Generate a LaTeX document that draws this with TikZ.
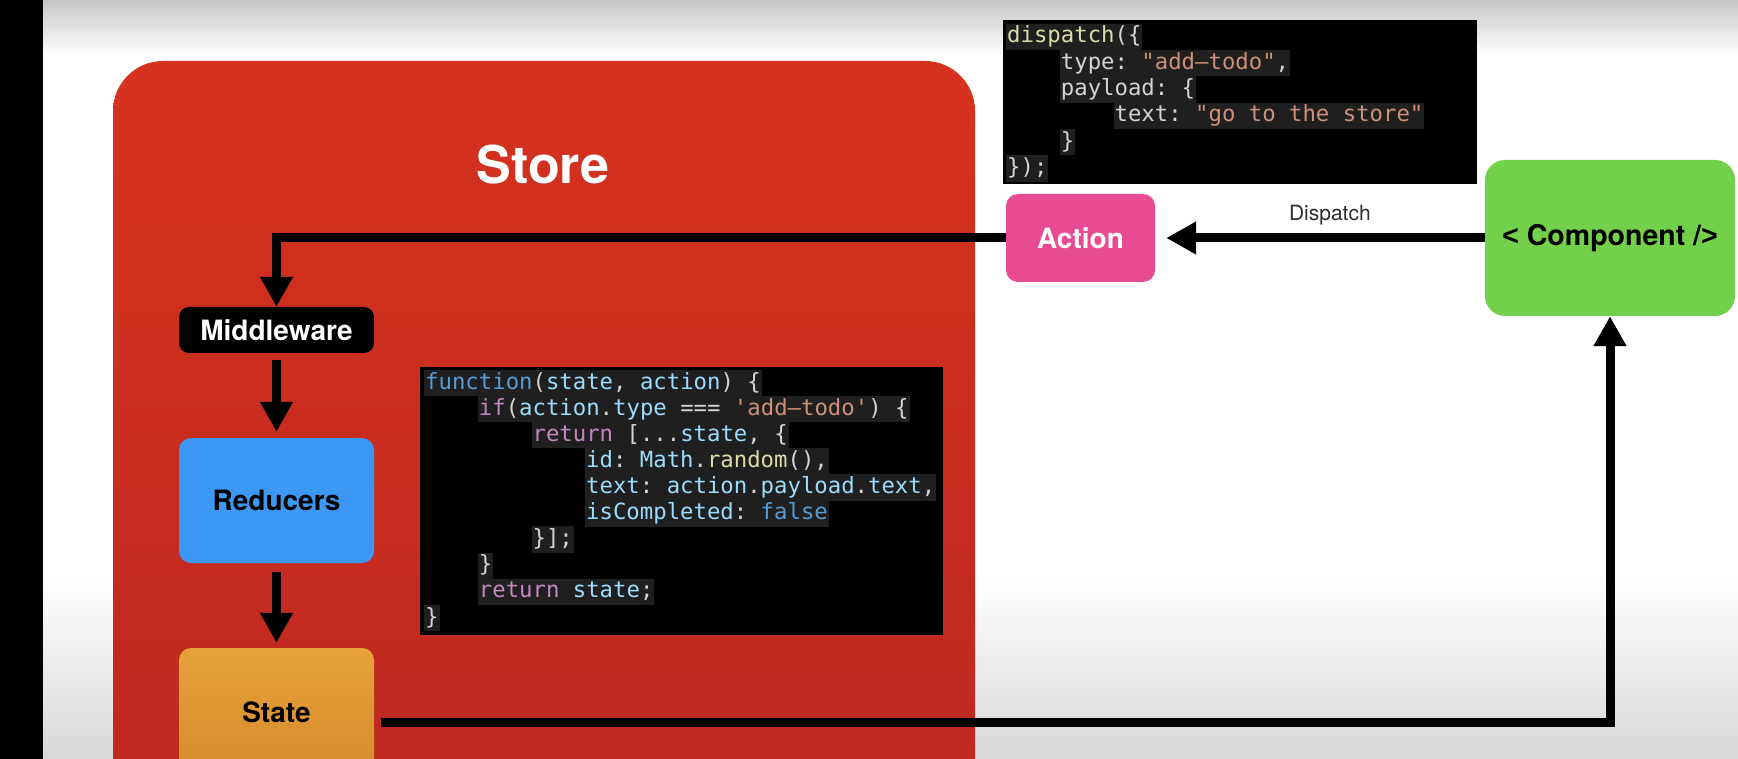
\documentclass[tikz,border=0pt]{standalone}
\usepackage{fontspec}
\setmonofont{DejaVu Sans Mono}
\newfontfamily\hv{TeX Gyre Heros}
\newfontfamily\lib{Liberation Sans}
\usetikzlibrary{arrows.meta}
\definecolor{cdef}{HTML}{D4D4D4}
\definecolor{cvar}{HTML}{9CDCFE}
\definecolor{ckey}{HTML}{C586C0}
\definecolor{cblue}{HTML}{569CD6}
\definecolor{cstr}{HTML}{CE9178}
\definecolor{cfun}{HTML}{DCDCAA}
\definecolor{chl}{HTML}{1F1F1F}
\definecolor{storetop}{HTML}{D6321F}
\definecolor{storebot}{HTML}{BC2820}
\definecolor{redblue}{HTML}{3D98F5}
\definecolor{statetop}{HTML}{E8A23A}
\definecolor{statebot}{HTML}{D48B2C}
\definecolor{actpink}{HTML}{E84A93}
\definecolor{compgreen}{HTML}{72D04A}
\definecolor{bggray}{HTML}{D8D8D8}
\definecolor{lblgray}{HTML}{2E2E2E}
\tikzset{
  boxlbl/.style={font=\hv\bfseries\fontsize{28}{32}\selectfont, inner sep=0pt},
  codeline/.style={anchor=west, fill=chl, inner xsep=1pt, inner ysep=0pt,
    minimum height=26.3pt, text height=17pt, text depth=5pt,
    font=\ttfamily\fontsize{22.3}{26}\selectfont},
  codebox/.style={fill=black, draw=none},
  flow/.style={line width=9pt, -{Triangle[width=31pt,length=30pt]}},
}
\begin{document}
\begin{tikzpicture}[x=1pt,y=-1pt]
\useasboundingbox (0,0) rectangle (1738,759);
\clip (0,0) rectangle (1738,759);
% background
\fill[white] (0,0) rectangle (1738,759);
\shade[top color=black!22, bottom color=white] (0,0) rectangle (1738,55);
\shade[top color=white, bottom color=bggray] (0,575) rectangle (1738,759);
\fill[black] (0,0) rectangle (43,759);
% store
\shade[top color=storetop, middle color=storetop, bottom color=storebot, rounded corners=50pt]
  (113,61) rectangle (975,830);
\node[font=\hv\bfseries\fontsize{52}{60}\selectfont, text=white] (storelbl) at (543,165) {Store};
% nodes
\node[boxlbl, fill=black, text=white, rounded corners=10pt, minimum width=195pt, minimum height=46pt]
  (mw) at (276.5,330) {Middleware};
\node[boxlbl, fill=redblue, text=black, rounded corners=12pt, minimum width=195pt, minimum height=125pt]
  (red) at (276.5,500.5) {Reducers};
\node[boxlbl, top color=statetop, bottom color=statebot, text=black, rounded corners=12pt, minimum width=195pt, minimum height=128pt]
  (st) at (276.5,712) {State};
\node[boxlbl, fill=actpink, text=white, rounded corners=12pt, minimum width=149pt, minimum height=88pt]
  (act) at (1080.5,238) {Action};
\node[boxlbl, fill=compgreen, text=black, rounded corners=20pt, minimum width=250pt, minimum height=156pt,
  font=\hv\bfseries\fontsize{28.5}{32}\selectfont]
  (comp) at (1610,238) {{\lib\bfseries <} Component /{\lib\bfseries >}};
% connectors
\draw[flow] (act.west) -| (mw.north);
\draw[flow, shorten <=7pt, shorten >=6pt] (mw.south) -- (red.north);
\draw[flow, shorten <=9pt, shorten >=5pt] (red.south) -- (st.north);
\draw[flow, shorten >=11pt] (comp.west) -- (act.east)
  node[pos=0.47, yshift=23pt, font=\hv\fontsize{21}{24}\selectfont, text=lblgray] (dlbl) {Dispatch};
\draw[flow] ([xshift=7pt,yshift=-10pt]st.east) -| (comp.south);
% code box 1
\fill[codebox] (1003,20) rectangle (1477,184);
\node[codeline] (a1) at (1006,37) {\textcolor{cfun}{dispatch}\textcolor{cdef}{(\{}};
\node[codeline] (a2) at (1059.7,63.3) {\textcolor{cdef}{type: }\textcolor{cstr}{"add–todo"}\textcolor{cdef}{,}};
\node[codeline] (a3) at (1059.7,89.6) {\textcolor{cdef}{payload: \{}};
\node[codeline] (a4) at (1113.4,115.9) {\textcolor{cdef}{text: }\textcolor{cstr}{"go to the store"}};
\node[codeline] (a5) at (1059.7,142.2) {\textcolor{cdef}{\}}};
\node[codeline] (a6) at (1006,168.5) {\textcolor{cdef}{\});}};
% code box 2
\fill[codebox] (420,367) rectangle (943,635);
\node[codeline] (b1) at (424,383) {\textcolor{cblue}{function}\textcolor{cdef}{(}\textcolor{cvar}{state}\textcolor{cdef}{, }\textcolor{cvar}{action}\textcolor{cdef}{) \{}};
\node[codeline] (b2) at (477.7,409.1) {\textcolor{ckey}{if}\textcolor{cdef}{(}\textcolor{cvar}{action}\textcolor{cdef}{.}\textcolor{cvar}{type }\textcolor{cdef}{=== }\textcolor{cstr}{'add–todo'}\textcolor{cdef}{) \{}};
\node[codeline] (b3) at (531.4,435.2) {\textcolor{ckey}{return }\textcolor{cdef}{[...}\textcolor{cvar}{state}\textcolor{cdef}{, \{}};
\node[codeline] (b4) at (585,461.3) {\textcolor{cvar}{id}\textcolor{cdef}{: }\textcolor{cvar}{Math}\textcolor{cdef}{.}\textcolor{cfun}{random}\textcolor{cdef}{(),}};
\node[codeline] (b5) at (585,487.4) {\textcolor{cvar}{text}\textcolor{cdef}{: }\textcolor{cvar}{action}\textcolor{cdef}{.}\textcolor{cvar}{payload}\textcolor{cdef}{.}\textcolor{cvar}{text}\textcolor{cdef}{,}};
\node[codeline] (b6) at (585,513.5) {\textcolor{cvar}{isCompleted}\textcolor{cdef}{: }\textcolor{cblue}{false}};
\node[codeline] (b7) at (531.4,539.6) {\textcolor{cdef}{\}];}};
\node[codeline] (b8) at (477.7,565.7) {\textcolor{cdef}{\}}};
\node[codeline] (b9) at (477.7,591.8) {\textcolor{ckey}{return }\textcolor{cvar}{state}\textcolor{cdef}{;}};
\node[codeline] (b10) at (424,618) {\textcolor{cdef}{\}}};
\end{tikzpicture}
\end{document}
